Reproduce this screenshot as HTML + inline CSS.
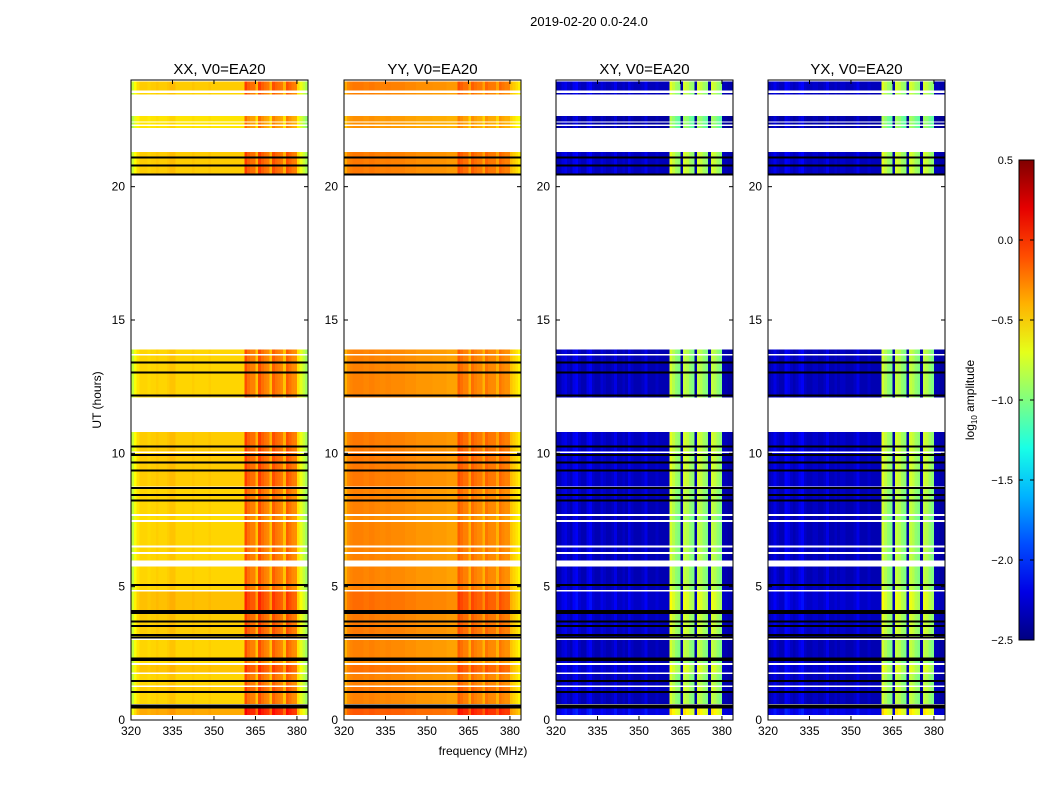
<!DOCTYPE html>
<html><head><meta charset="utf-8"><style>
body{margin:0;background:#fff;font-family:"Liberation Sans",sans-serif;}
svg text{font-family:"Liberation Sans",sans-serif;fill:#000;}
</style></head><body>
<svg id="fig" width="1050" height="800" viewBox="0 0 1050 800">
<text x="589" y="26" font-size="13" text-anchor="middle">2019-02-20 0.0-24.0</text>
<text x="483" y="755" font-size="12" text-anchor="middle">frequency (MHz)</text>
<text transform="translate(101,400) rotate(-90)" font-size="12" text-anchor="middle">UT (hours)</text>
<g id="panels"></g>
<g id="cbar"></g>
</svg>
<script>
const products=["XX","YY","XY","YX"];
const panelLeft=[131,344,556,768];
const xTicks=[320,335,350,365,380];
const yTicks=[0,5,10,15,20];
const cbTicks=[0.5,0.0,-0.5,-1.0,-1.5,-2.0,-2.5];
const cbLabels=["0.5","0.0","\u22120.5","\u22121.0","\u22121.5","\u22122.0","\u22122.5"];
// channel base values, 1 MHz channels 320..383
const chanXX=[-0.8,-0.65,-0.55,-0.5,-0.5,-0.5,-0.52,-0.5,-0.5,-0.48,
 -0.5,-0.5,-0.5,-0.48,-0.45,-0.45,-0.5,-0.5,-0.5,-0.5,
 -0.5,-0.5,-0.48,-0.5,-0.5,-0.5,-0.5,-0.5,-0.48,-0.5,
 -0.5,-0.5,-0.5,-0.5,-0.5,-0.5,-0.5,-0.5,-0.5,-0.5,-0.5,
 -0.1,-0.2,-0.25,-0.25,-0.45,-0.1,-0.2,-0.25,-0.28,-0.45,-0.15,-0.22,-0.25,-0.28,-0.45,-0.15,-0.22,-0.28,-0.3,
 -0.55,-0.7,-0.8,-0.9];
const chanYY=[-0.4,-0.3,-0.27,-0.25,-0.25,-0.25,-0.25,-0.27,-0.27,-0.25,
 -0.25,-0.27,-0.27,-0.28,-0.28,-0.27,-0.27,-0.28,-0.28,-0.28,
 -0.28,-0.28,-0.3,-0.3,-0.3,-0.3,-0.32,-0.32,-0.32,-0.32,
 -0.32,-0.32,-0.33,-0.33,-0.33,-0.33,-0.33,-0.35,-0.35,-0.35,-0.35,
 -0.15,-0.2,-0.25,-0.25,-0.4,-0.2,-0.25,-0.28,-0.28,-0.4,-0.22,-0.27,-0.28,-0.28,-0.4,-0.22,-0.27,-0.3,-0.3,
 -0.45,-0.5,-0.55,-0.6];
const chanXY=[-2.35,-2.35,-2.25,-2.2,-2.3,-2.35,-2.2,-2.15,-2.3,-2.35,
 -2.35,-2.2,-2.15,-2.3,-2.35,-2.35,-2.25,-2.3,-2.35,-2.35,
 -2.3,-2.2,-2.35,-2.35,-2.3,-2.35,-2.2,-2.3,-2.35,-2.35,
 -2.35,-2.3,-2.2,-2.35,-2.35,-2.35,-2.3,-2.35,-2.35,-2.35,-2.35,
 -0.75,-0.85,-0.95,-1.0,-2.4,-0.8,-0.85,-0.95,-1.0,-2.4,-0.8,-0.85,-0.95,-1.0,-2.4,-0.8,-0.85,-0.95,-1.0,
 -2.35,-2.35,-2.4,-2.4];
const chanYX=[-2.35,-2.3,-2.2,-2.3,-2.35,-2.35,-2.15,-2.2,-2.3,-2.35,
 -2.3,-2.2,-2.15,-2.3,-2.35,-2.35,-2.3,-2.3,-2.35,-2.35,
 -2.3,-2.2,-2.35,-2.35,-2.3,-2.35,-2.3,-2.3,-2.35,-2.35,
 -2.35,-2.3,-2.2,-2.35,-2.35,-2.35,-2.3,-2.35,-2.35,-2.35,-2.35,
 -0.75,-0.85,-0.95,-1.0,-2.4,-0.8,-0.85,-0.95,-1.0,-2.4,-0.8,-0.85,-0.95,-1.0,-2.4,-0.8,-0.85,-0.95,-1.0,
 -2.35,-2.35,-2.4,-2.4];
const chanData=[chanXX,chanYY,chanXY,chanYX];
// data segments: start hour, end hour, offset
const segStart=[0.19,0.6,1.05,1.3,1.76,2.1,2.3,3.05,4.12,4.86,5.95,6.3,6.55,7.5,7.72,8.24,8.75,12.1,20.45,22.2,22.45,23.45,23.6];
const segEnd=[0.45,1.05,1.27,1.76,2.1,2.25,3.03,4.0,4.84,5.75,6.25,6.5,7.45,7.68,8.24,8.7,10.8,13.9,21.3,22.4,22.65,23.55,23.95];
const segOffset=[0.25,0.0,0.05,0.0,0.1,-0.05,0.0,0.05,0.12,0.0,0.0,0.0,0.0,-0.05,0.0,0.0,0.05,0.0,0.05,-0.1,-0.1,0.0,0.05];
const blackLines=[0.47,0.55,1.05,1.46,2.25,2.3,3.1,3.18,3.52,3.7,4.02,4.08,5.06,8.24,8.43,8.7,9.36,9.66,9.93,10.26,12.17,13.03,13.4,20.45,20.8,21.1];
const whiteLines=[1.27,1.76,2.1,3.03,4.84,5.95,6.25,6.5,7.45,7.68,10.04,13.7,22.3,23.55];

const NS="http://www.w3.org/2000/svg";
function mk(tag,attrs,parent){const e=document.createElementNS(NS,tag);for(const k in attrs)e.setAttribute(k,attrs[k]);parent.appendChild(e);return e;}
function jet(v){let t=(v+2.5)/3;t=Math.max(0,Math.min(1,t));
 const c=x=>Math.round(255*Math.max(0,Math.min(1,1.5-Math.abs(x))));
 return `rgb(${c(4*t-3)},${c(4*t-2)},${c(4*t-1)})`;}
const PW=177,PT=80,PB=720;
const xs=(f,L)=>L+(f-320)*(PW/64);
const ys=h=>PB-(h/24)*(PB-PT);
const panels=document.getElementById('panels');
products.forEach((p,pi)=>{
 const L=panelLeft[pi];
 const g=mk('g',{},panels);
 
 
 const t=mk('text',{x:L+PW/2,y:74,'font-size':15,'text-anchor':'middle'},g);
 t.textContent=p+', V0=EA20';
 
 
 const hm=mk('g',{'shape-rendering':'crispEdges'},g);
 
 
 const ch=chanData[pi];
 segStart.forEach((s,si)=>{
  const y0=ys(segEnd[si]),y1=ys(s);
  ch.forEach((v,ci)=>{
   const x0=xs(320+ci,L),x1=xs(321+ci,L);
   const r=mk('rect',{x:x0.toFixed(2),y:y0.toFixed(2),width:(x1-x0+0.3).toFixed(2),height:(y1-y0).toFixed(2),fill:jet(v+(ci>40&&ci<60&&v>-2?segOffset[si]:segOffset[si]*0.5))},hm);
   
   
  });
 });
 whiteLines.forEach(h=>{const r=mk('rect',{x:L,y:ys(h)-0.8,width:PW,height:1.6,fill:'#fff'},hm);
  });
 blackLines.forEach(h=>{const r=mk('rect',{x:L,y:ys(h)-1,width:PW,height:2,fill:'#000'},hm);
  });
 const fr=mk('rect',{x:L,y:PT,width:PW,height:PB-PT,fill:'none',stroke:'#000','stroke-width':1},g);
 
 xTicks.forEach(f=>{const x=xs(f,L);
  mk('line',{x1:x,x2:x,y1:PB,y2:PB-4,stroke:'#000'},g);mk('line',{x1:x,x2:x,y1:PT,y2:PT+4,stroke:'#000'},g);
  const tx=mk('text',{x:x,y:PB+15,'font-size':12,'text-anchor':'middle'},g);tx.textContent=f;
  });
 yTicks.forEach(h=>{const y=ys(h);
  mk('line',{x1:L,x2:L+4,y1:y,y2:y,stroke:'#000'},g);mk('line',{x1:L+PW,x2:L+PW-4,y1:y,y2:y,stroke:'#000'},g);
  const ty=mk('text',{x:L-6,y:y+4,'font-size':12,'text-anchor':'end'},g);ty.textContent=h;
  });
});
// colorbar
const cb=document.getElementById('cbar');
const CX=1019,CW=15,CT=160,CB=640;
const defs=mk('defs',{},cb);
const lg=mk('linearGradient',{id:'jetg',x1:0,y1:1,x2:0,y2:0},defs);
for(let i=0;i<=10;i++){mk('stop',{offset:i/10,'stop-color':jet(-2.5+3*i/10)},lg);}
mk('rect',{x:CX,y:CT,width:CW,height:CB-CT,fill:'url(#jetg)',stroke:'#000'},cb);
const cys=v=>CB-(v+2.5)/3*(CB-CT);
cbTicks.forEach((v,i)=>{const y=cys(v);
 mk('line',{x1:CX,x2:CX+4,y1:y,y2:y,stroke:'#000'},cb);
 mk('line',{x1:CX+CW,x2:CX+CW-4,y1:y,y2:y,stroke:'#000'},cb);
 const t=mk('text',{x:CX-6,y:y+4,'font-size':11,'text-anchor':'end'},cb);t.textContent=cbLabels[i];
 });
const cl=mk('text',{transform:'translate(974,400) rotate(-90)','font-size':12,'text-anchor':'middle'},cb);
cl.innerHTML='log<tspan font-size="8" dy="3">10</tspan><tspan dy="-3"> amplitude</tspan>';

</script>
</body></html>
